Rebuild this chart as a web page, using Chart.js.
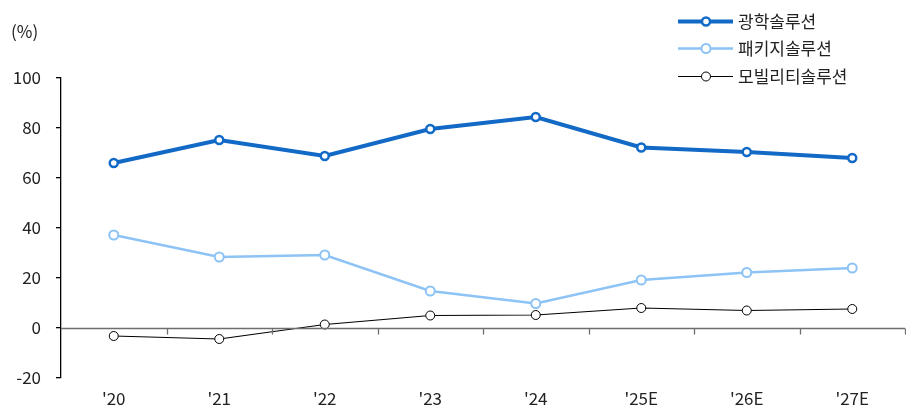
<!DOCTYPE html>
<html>
<head>
<meta charset="utf-8">
<script src="https://cdn.jsdelivr.net/npm/chart.js@4"></script>
<style>
  html, body { margin: 0; padding: 0; background: #fff; overflow: hidden; }
  canvas { display: block; }
</style>
</head>
<body>
<canvas id="chart" width="906" height="407"></canvas>
<script>
// 광학/패키지/모빌리티 솔루션 비중 (%)
const labels = ["'20", "'21", "'22", "'23", "'24", "'25E", "'26E", "'27E"];
const optical = [66.0, 75.2, 68.8, 79.6, 84.4, 72.2, 70.4, 68.0];
const pkg = [37.2, 28.4, 29.2, 14.8, 9.8, 19.2, 22.2, 24.0];
const mobility = [-3.2, -4.4, 1.4, 5.0, 5.2, 8.0, 7.0, 7.6];
const seriesNames = ['광학솔루션', '패키지솔루션', '모빌리티솔루션'];
const yTicks = [-20, 0, 20, 40, 60, 80, 100];

const FONT = "'Noto Sans CJK KR', 'Noto Sans', sans-serif";
const TEXT = '#222';

// zero line with boundary ticks, unit label and legend
const extras = {
  id: 'extras',
  afterDatasetsDraw(chart) {
    const { ctx, chartArea } = chart;
    const x = chart.scales.x, y = chart.scales.y;
    const y0 = Math.round(y.getPixelForValue(0)) + 0.5;
    ctx.save();
    ctx.strokeStyle = '#6e6e6e';
    ctx.lineWidth = 1.3;
    ctx.beginPath();
    ctx.moveTo(chartArea.left, y0);
    ctx.lineTo(chartArea.right, y0);
    for (let i = 0; i < labels.length; i++) {
      const bx = Math.round((x.getPixelForValue(i) + x.getPixelForValue(i + 1)) / 2) + 0.5;
      ctx.moveTo(bx, y0);
      ctx.lineTo(bx, y0 + 6);
    }
    ctx.stroke();

    ctx.fillStyle = TEXT;
    ctx.font = '17px ' + FONT;
    ctx.textBaseline = 'middle';
    ctx.textAlign = 'left';
    ctx.fillText('(%)', 11, 32);

    // legend
    const rows = [21, 48, 76];
    chart.data.datasets.forEach((ds, i) => {
      const ly = rows[i] + 0.5;
      ctx.strokeStyle = ds.borderColor;
      ctx.lineWidth = ds.borderWidth;
      ctx.beginPath();
      ctx.moveTo(678, ly);
      ctx.lineTo(733, ly);
      ctx.stroke();
      ctx.beginPath();
      ctx.fillStyle = '#fff';
      ctx.lineWidth = ds.pointBorderWidth;
      ctx.arc(706, ly, ds.pointRadius, 0, Math.PI * 2);
      ctx.fill();
      ctx.stroke();
      ctx.fillStyle = TEXT;
      ctx.fillText(ds.label, 738, ly);
    });
    ctx.restore();
  }
};

new Chart(document.getElementById('chart'), {
  type: 'line',
  data: {
    labels,
    datasets: [
      { label: seriesNames[0], data: optical, borderColor: '#1269c6', borderWidth: 4,
        pointRadius: 4, pointBorderWidth: 2.5, pointBackgroundColor: '#fff', pointBorderColor: '#1269c6' },
      { label: seriesNames[1], data: pkg, borderColor: '#8dc3f5', borderWidth: 2.5,
        pointRadius: 4.5, pointBorderWidth: 2, pointBackgroundColor: '#fff', pointBorderColor: '#8dc3f5' },
      { label: seriesNames[2], data: mobility, borderColor: '#000', borderWidth: 1.2,
        pointRadius: 4.5, pointBorderWidth: 1, pointBackgroundColor: '#fff', pointBorderColor: '#000' },
    ]
  },
  options: {
    responsive: false,
    animation: false,
    devicePixelRatio: 1,
    layout: { autoPadding: false, padding: { top: 78, right: 1, left: 0, bottom: 0 } },
    plugins: { legend: { display: false }, tooltip: { enabled: false } },
    scales: {
      x: {
        offset: true,
        grid: { display: false, drawTicks: false },
        border: { display: false },
        ticks: { color: TEXT, font: { family: FONT, size: 17 }, padding: 10, maxRotation: 0 },
        afterFit(s) { s.height = 29; s.paddingLeft = 0; s.paddingRight = 0; }
      },
      y: {
        min: -20, max: 100,
        afterBuildTicks(s) { s.ticks = yTicks.map(v => ({ value: v })); },
        grid: { display: true, drawOnChartArea: false, tickLength: 5, color: '#000', lineWidth: 1.3 },
        border: { display: true, color: '#000', width: 1.3 },
        ticks: { color: TEXT, font: { family: FONT, size: 17 }, padding: 15 },
        afterFit(s) { s.width = 61; }
      }
    }
  },
  plugins: [extras]
});
</script>
</body>
</html>
